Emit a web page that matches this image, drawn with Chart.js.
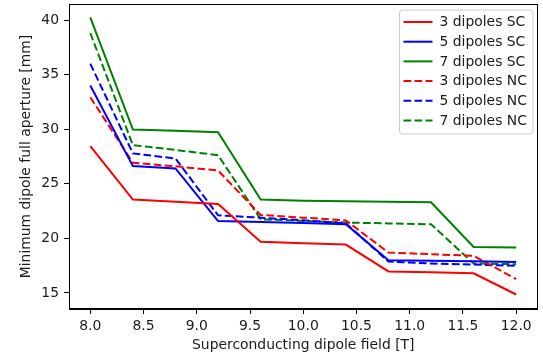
<!DOCTYPE html>
<html>
<head>
<meta charset="utf-8">
<script src="https://cdn.jsdelivr.net/npm/chart.js@4.4.0/dist/chart.umd.min.js"></script>
<style>
html,body{margin:0;padding:0;background:#fff;}
#wrap{width:543px;height:357px;}
</style>
</head>
<body>
<div id="wrap"><canvas id="c" width="543" height="357"></canvas></div>
<script>
const fieldT = [8.0, 8.4, 8.8, 9.2, 9.6, 10.0, 10.4, 10.8, 11.2, 11.6, 12.0];
const sc3 = [28.45, 23.55, 23.35, 23.15, 19.7, 19.55, 19.43, 16.97, 16.9, 16.8, 14.86];
const sc5 = [34.0, 26.62, 26.41, 21.59, 21.5, 21.4, 21.3, 18.0, 17.95, 17.9, 17.84];
const sc7 = [40.24, 29.97, 29.85, 29.73, 23.55, 23.45, 23.4, 23.35, 23.3, 19.21, 19.16];
const nc3 = [32.93, 26.93, 26.6, 26.22, 22.14, 21.9, 21.65, 18.7, 18.55, 18.4, 16.26];
const nc5 = [36.0, 27.78, 27.32, 22.11, 21.9, 21.65, 21.38, 17.88, 17.7, 17.6, 17.48];
const nc7 = [38.81, 28.54, 28.1, 27.62, 21.75, 21.6, 21.45, 21.37, 21.29, 17.7, 17.63];
const xTicks = [8.0, 8.5, 9.0, 9.5, 10.0, 10.5, 11.0, 11.5, 12.0];
const yTicks = [15, 20, 25, 30, 35, 40];

const FONT = 'DejaVu Sans';
const FS = 13.9;
const TXT = '#1a1a1a';
const DASH = [7.7, 3.3];

function pts(ys){ return fieldT.map((x,i)=>({x:x, y:ys[i]})); }
function ds(label, ys, color, dashed){
  return {label, data: pts(ys), borderColor: color, backgroundColor: color,
    borderWidth: 2, borderDash: dashed ? DASH : [], pointRadius: 0, tension: 0, fill: false};
}

const frame = {
  id: 'frame',
  afterDraw(chart){
    const {ctx, chartArea:a} = chart;
    ctx.save();
    ctx.strokeStyle = '#000';
    ctx.lineWidth = 1;
    ctx.strokeRect(Math.round(a.left)+0.5, Math.round(a.top)+0.5, Math.round(a.right-a.left)-1, Math.round(a.bottom-a.top)-1);
    ctx.restore();
  }
};

const innerLegend = {
  id: 'innerLegend',
  afterDraw(chart){
    const {ctx, chartArea:a} = chart;
    const sets = chart.data.datasets;
    const boxR = a.right - 4.5, boxT = a.top + 6;
    const boxW = 133.5, rowH = 19.7, boxH = 124;
    const boxL = boxR - boxW;
    ctx.save();
    ctx.fillStyle = 'rgba(255,255,255,0.8)';
    ctx.strokeStyle = '#cccccc';
    ctx.lineWidth = 1;
    const r = 3;
    ctx.beginPath();
    ctx.moveTo(boxL + r, boxT);
    ctx.lineTo(boxR - r, boxT); ctx.quadraticCurveTo(boxR, boxT, boxR, boxT + r);
    ctx.lineTo(boxR, boxT + boxH - r); ctx.quadraticCurveTo(boxR, boxT + boxH, boxR - r, boxT + boxH);
    ctx.lineTo(boxL + r, boxT + boxH); ctx.quadraticCurveTo(boxL, boxT + boxH, boxL, boxT + boxH - r);
    ctx.lineTo(boxL, boxT + r); ctx.quadraticCurveTo(boxL, boxT, boxL + r, boxT);
    ctx.closePath();
    ctx.fill(); ctx.stroke();
    ctx.font = FS + 'px "' + FONT + '"';
    ctx.textBaseline = 'middle';
    ctx.textAlign = 'left';
    sets.forEach((d, i) => {
      const y = boxT + 12 + i*rowH;
      ctx.strokeStyle = d.borderColor;
      ctx.lineWidth = d.borderWidth;
      ctx.setLineDash(d.borderDash || []);
      ctx.beginPath();
      ctx.moveTo(boxL + 4, y); ctx.lineTo(boxL + 33, y);
      ctx.stroke();
      ctx.setLineDash([]);
      ctx.fillStyle = TXT;
      ctx.fillText(d.label, boxL + 40, y + 0.5);
    });
    ctx.restore();
  }
};

function zeroPad(s){ s.paddingTop = 0; s.paddingBottom = 0; s.paddingLeft = 0; s.paddingRight = 0; }

new Chart(document.getElementById('c'), {
  type: 'line',
  data: {
    datasets: [
      ds('3 dipoles SC', sc3, '#ff0000', false),
      ds('5 dipoles SC', sc5, '#0000ff', false),
      ds('7 dipoles SC', sc7, '#008000', false),
      ds('3 dipoles NC', nc3, '#ff0000', true),
      ds('5 dipoles NC', nc5, '#0000ff', true),
      ds('7 dipoles NC', nc7, '#008000', true)
    ]
  },
  options: {
    responsive: false,
    animation: false,
    devicePixelRatio: 1,
    layout: {padding: {left: 0, right: 5.5, top: 4, bottom: 0}},
    plugins: {legend: {display: false}, tooltip: {enabled: false}},
    scales: {
      x: {
        type: 'linear', min: 7.8, max: 12.2,
        afterBuildTicks(s){ s.ticks = xTicks.map(v => ({value: v})); },
        afterFit(s){ s.height = 48; zeroPad(s); },
        grid: {drawOnChartArea: false, drawTicks: true, tickLength: 5, color: '#000'},
        border: {display: true, color: '#000'},
        ticks: {color: TXT, font: {family: FONT, size: FS}, padding: 4,
          callback: v => Number(v).toFixed(1), maxRotation: 0, autoSkip: false},
        title: {display: true, text: 'Superconducting dipole field [T]', color: TXT,
          font: {family: FONT, size: FS}, padding: {top: 0, bottom: 3}}
      },
      y: {
        type: 'linear', min: 13.53, max: 41.47,
        afterBuildTicks(s){ s.ticks = yTicks.map(v => ({value: v})); },
        afterFit(s){ s.width = 69; zeroPad(s); },
        grid: {drawOnChartArea: false, drawTicks: true, tickLength: 5, color: '#000'},
        border: {display: true, color: '#000'},
        ticks: {color: TXT, font: {family: FONT, size: FS}, padding: 5,
          callback: v => String(v), autoSkip: false},
        title: {display: true, text: 'Minimum dipole full aperture [mm]', color: TXT,
          font: {family: FONT, size: FS}, padding: {top: 18, bottom: 0}}
      }
    }
  },
  plugins: [frame, innerLegend]
});
</script>
</body>
</html>
